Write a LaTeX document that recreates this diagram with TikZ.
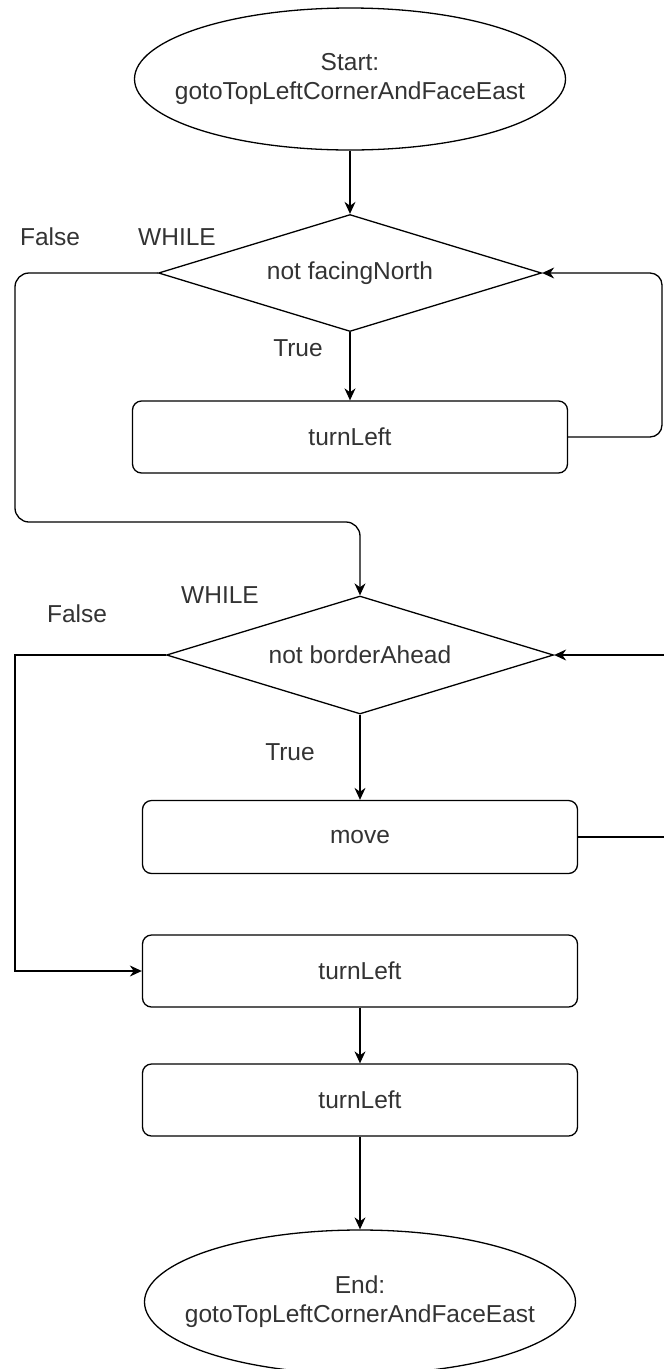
\documentclass[tikz,border=0pt]{standalone}
\usepackage{fontspec}
\setmainfont{Liberation Sans}
\usetikzlibrary{shapes.geometric,arrows.meta}
\begin{document}
\begin{tikzpicture}[x=1pt,y=-1pt,
  ln/.style={line width=1.3pt, draw=black},
  arr/.style={ln, -{Stealth[length=12pt,width=11pt]}},
  txt/.style={font=\fontsize{24.5}{29}\selectfont, text=black!80},
  term/.style={ellipse, ln, txt, align=center, minimum width=431pt, minimum height=142pt, inner xsep=-40pt, inner ysep=0pt},
  dec/.style={diamond, ln, txt, aspect=3.27, minimum width=383pt, minimum height=117pt, inner sep=0pt},
  act/.style={rectangle, rounded corners=9pt, ln, txt, minimum width=435pt, minimum height=72pt, inner sep=0pt},
  lbl/.style={txt, inner sep=0pt}]
\useasboundingbox (0,0) rectangle (664,1369);
% nodes
\node[term] (start) at (350,79) {Start:\\gotoTopLeftCornerAndFaceEast};
\node[dec] (d1) at (350,273) {\raisebox{-3pt}{not facingNorth}};
\node[act] (b1) at (350,437) {\raisebox{-2pt}{turnLeft}};
\node[dec, minimum width=387pt, minimum height=118pt] (d2) at (360,655) {\raisebox{-2pt}{not borderAhead}};
\node[act, minimum height=73pt] (mv) at (360,837) {\raisebox{-2pt}{move}};
\node[act] (b2) at (360,971) {\raisebox{-2pt}{turnLeft}};
\node[act] (b3) at (360,1100) {\raisebox{-2pt}{turnLeft}};
\node[term, minimum height=144pt] (end) at (360,1302) {End:\\gotoTopLeftCornerAndFaceEast};
% labels
\node[lbl] (f1) at (50,237) {False};
\node[lbl] (w1) at (177,237) {WHILE};
\node[lbl] (t1) at (298,348) {True};
\node[lbl] (w2) at (220,595) {WHILE};
\node[lbl] (f2) at (77,614) {False};
\node[lbl] (t2) at (290,752) {True};
% helper coordinates
\coordinate (r1) at (662,437);
\coordinate (fA) at (15,522);
\coordinate (fB) at (360,522);
\coordinate (r2) at (672,837);
\coordinate (fC) at (15,971);
% connectors
\draw[arr] (start) -- (d1);
\draw[arr] (d1) -- (b1);
\draw[arr, rounded corners=12pt] (b1.east) -- (r1) |- (d1.east);
\draw[arr, rounded corners=14pt] (d1.west) -| (fA) -- (fB) -- (d2.north);
\draw[arr] (d2) -- (mv);
\draw[arr] (mv.east) -- (r2) |- (d2.east);
\draw[arr] (d2.west) -| (fC) -- (b2.west);
\draw[arr] (b2) -- (b3);
\draw[arr] (b3) -- (end);
\end{tikzpicture}
\end{document}
